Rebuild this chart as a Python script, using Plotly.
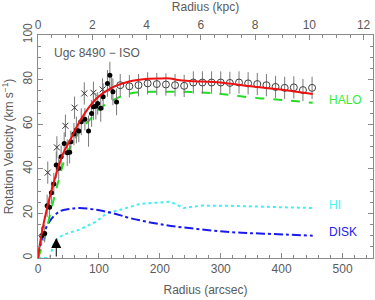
import plotly.graph_objects as go

# ---- data (arcsec, km/s) ----
model_r = [0, 5, 16, 25, 40, 55, 70, 96, 124, 151, 173, 198, 217, 230, 256, 294, 349, 404, 451]
model_v = [0, 9.5, 23.8, 33, 46, 54, 62, 71.5, 76.7, 79.3, 80.2, 80.5, 80.5, 79.8, 79.3, 78.8, 77, 75.3, 73.5]

halo_r = [0, 10, 19, 33, 47, 70, 85, 102, 118, 151, 184, 239, 294, 349, 404, 451]
halo_v = [0, 8, 18.6, 34, 46.5, 57.4, 62, 67, 70, 73.8, 74.5, 74.5, 73.8, 72, 70.8, 69.6]

disk_r = [0, 8, 19, 35, 52, 68, 96, 123, 151, 206, 261, 316, 371, 451]
disk_v = [0, 9.7, 16.4, 20.8, 22, 22.4, 21.6, 20.1, 17.9, 14.9, 13, 11.6, 10.9, 10]

hi_r = [0, 19, 27, 41, 68, 96, 113, 135, 168, 206, 217, 225, 239, 256, 272, 316, 371, 451]
hi_v = [0, 0, 7.4, 10.4, 12.7, 16.4, 20.1, 21.6, 24.3, 24.9, 25.2, 24.3, 22.4, 23.1, 23.5, 23.4, 23.1, 22.4]

dots_r = [6, 11, 15, 19, 22, 26, 30, 34, 38, 43, 48, 52, 54, 59, 63, 67, 71, 77, 83, 88, 91, 95, 98, 103, 107, 114, 118, 123, 129]
dots_v = [10, 11, 23.4, 22.8, 29.3, 33.2, 41.7, 40.2, 45.4, 51.4, 47.2, 47.4, 52.1, 55.6, 57.4, 56.9, 61.1, 62.2, 56.9, 64.8, 67.8, 68.1, 69.3, 67.1, 72.3, 78.3, 82, 74.5, 70]
dots_e = [4, 4, 5, 5, 5, 5, 6, 5, 5, 5, 6, 5, 5, 5, 6, 5, 6, 5, 7, 6, 6, 6, 5, 6, 6, 6, 6, 6, 6]

cross_r = [16, 31, 45, 60, 76, 91, 106, 121]
cross_v = [38.3, 49.6, 59.3, 67.4, 73.8, 74.1, 75.6, 76]
cross_e = [5, 5, 5, 5, 5, 5, 5, 5]

open_r = [135, 150, 165, 180, 195, 210, 225, 240, 255, 270, 285, 300, 315, 330, 345, 360, 375, 390, 405, 420, 435, 450]
open_v = [77.5, 77, 77.5, 78.3, 78, 77.8, 77.5, 77.2, 78.7, 78.7, 78.7, 78.7, 78.5, 78.7, 78.3, 78, 77.5, 76.7, 76.3, 76.5, 75.3, 76.3]
open_e = [5] * len(open_r)

arrow_r = 30
KPC_PER_ARCSEC = 0.02245
X_MAX = 550

grey = "#5a5a5a"
FAM = "Liberation Sans, Arial, sans-serif"
font = dict(family=FAM, size=12, color=grey)

fig = go.Figure()

fig.add_trace(go.Scatter(x=hi_r, y=hi_v, mode="lines", line=dict(color="#40f0f0", width=2, dash="dot"), hoverinfo="skip"))
fig.add_trace(go.Scatter(x=disk_r, y=disk_v, mode="lines", line=dict(color="#1a1aee", width=2, dash="dashdot", shape="spline"), hoverinfo="skip"))
fig.add_trace(go.Scatter(x=halo_r, y=halo_v, mode="lines", line=dict(color="#22dd22", width=2, dash="dash", shape="spline"), hoverinfo="skip"))

err_style = dict(type="data", thickness=1, width=0, color="#7a7a7a")
fig.add_trace(go.Scatter(x=open_r, y=open_v, mode="markers",
                         error_y=dict(array=open_e, **err_style),
                         marker=dict(symbol="circle-open", size=7, color="#404040", line=dict(width=1))))
fig.add_trace(go.Scatter(x=cross_r, y=cross_v, mode="markers",
                         error_y=dict(array=cross_e, **err_style),
                         marker=dict(symbol="x-thin-open", size=6, color="#303030", line=dict(width=1, color="#303030"))))
fig.add_trace(go.Scatter(x=dots_r, y=dots_v, mode="markers",
                         error_y=dict(array=dots_e, **err_style),
                         marker=dict(symbol="circle", size=5, color="black")))

fig.add_trace(go.Scatter(x=model_r, y=model_v, mode="lines", line=dict(color="#ee1111", width=2, shape="spline"), hoverinfo="skip"))

# invisible trace to activate top axis
fig.add_trace(go.Scatter(x=[0, X_MAX * KPC_PER_ARCSEC], y=[0, 0], xaxis="x2", mode="lines",
                         line=dict(width=0), opacity=0, hoverinfo="skip"))

fig.add_annotation(x=arrow_r, y=9, ax=arrow_r, ay=0, xref="x", yref="y", axref="x", ayref="y",
                   showarrow=True, arrowhead=2, arrowsize=2, arrowwidth=1, arrowcolor="black", text="")

fig.add_annotation(x=0.042, y=0.92, xref="paper", yref="paper", text="Ugc 8490 \u2212 ISO", showarrow=False,
                   xanchor="left", yanchor="middle", font=font)
fig.add_annotation(x=475, y=70.8, xref="x", yref="y", text="HALO", showarrow=False, xanchor="left",
                   font=dict(family=FAM, size=12, color="#33ee33"))
fig.add_annotation(x=475, y=23.8, xref="x", yref="y", text="HI", showarrow=False, xanchor="left",
                   font=dict(family=FAM, size=12, color="#44f4f4"))
fig.add_annotation(x=475, y=11.8, xref="x", yref="y", text="DISK", showarrow=False, xanchor="left",
                   font=dict(family=FAM, size=12, color="#2222ee"))

axis_common = dict(showgrid=False, zeroline=False, showline=True, linecolor="#8a8a8a", linewidth=1,
                   ticks="inside", ticklen=5, tickcolor="#8a8a8a", tickfont=font, automargin=False)

fig.update_layout(
    width=375, height=300,
    margin=dict(l=38, r=2, t=35, b=42),
    paper_bgcolor="white", plot_bgcolor="white",
    showlegend=False,
    font=font,
    xaxis=dict(range=[0, X_MAX], dtick=100, tick0=0,
               minor=dict(dtick=20, ticks="inside", ticklen=3, tickcolor="#8a8a8a"),
               title=dict(text="Radius (arcsec)", font=font, standoff=10), **axis_common),
    xaxis2=dict(range=[0, X_MAX * KPC_PER_ARCSEC], overlaying="x", side="top", dtick=2, tick0=0,
                minor=dict(dtick=0.5, ticks="inside", ticklen=3, tickcolor="#8a8a8a"),
                title=dict(text="Radius (kpc)", font=font, standoff=4), **axis_common),
    yaxis=dict(range=[0, 100], dtick=20, tick0=0, tickangle=-90, mirror="ticks",
               minor=dict(dtick=5, ticks="inside", ticklen=3, tickcolor="#8a8a8a"),
               title=dict(text="Rotation Velocity (km s<sup>\u22121</sup>)", font=font, standoff=5), **axis_common),
)

fig.write_html("out.html", config={"displayModeBar": False},
               post_script="document.body.style.margin='0';")
